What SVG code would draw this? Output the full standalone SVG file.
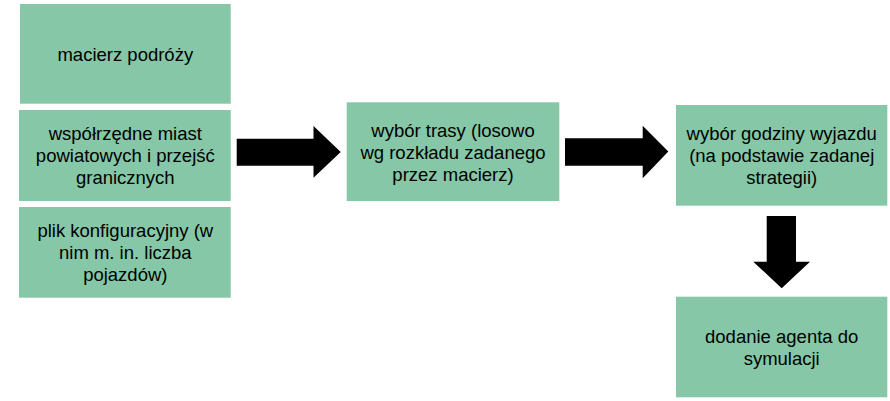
<svg xmlns="http://www.w3.org/2000/svg" width="890" height="401" viewBox="0 0 890 401">
<style>
.box{fill:#85c7a6;}
.t{font-family:"Liberation Sans",Arial,sans-serif;font-size:18.5px;fill:#000;text-anchor:middle;}
.arr{fill:#000;}
</style>
<rect width="890" height="401" fill="#fff"/>
<g id="n1"><rect class="box" x="20" y="4" width="210.7" height="99.7"/><text class="t" x="125.3" y="61">macierz podróży</text></g>
<g id="n2"><rect class="box" x="19" y="110" width="211.7" height="91"/><text class="t" x="125.3"><tspan x="125.3" y="140">współrzędne miast</tspan><tspan x="125.3" y="162">powiatowych i przejść</tspan><tspan x="125.3" y="184">granicznych</tspan></text></g>
<g id="n3"><rect class="box" x="19" y="207" width="211.7" height="90.7"/><text class="t"><tspan x="125.3" y="236.5">plik konfiguracyjny (w</tspan><tspan x="125.3" y="258.5">nim m. in. liczba</tspan><tspan x="125.3" y="280.5">pojazdów)</tspan></text></g>
<g id="n4"><rect class="box" x="346.7" y="102.3" width="212.6" height="98.7"/><text class="t"><tspan x="453" y="136.5">wybór trasy (losowo</tspan><tspan x="453" y="158.5">wg rozkładu zadanego</tspan><tspan x="453" y="180.5">przez macierz)</tspan></text></g>
<g id="n5"><rect class="box" x="676" y="105" width="211.3" height="100.7"/><text class="t"><tspan x="781.7" y="139.5">wybór godziny wyjazdu</tspan><tspan x="781.7" y="161.5">(na podstawie zadanej</tspan><tspan x="781.7" y="183.5">strategii)</tspan></text></g>
<g id="n6"><rect class="box" x="676" y="296.7" width="211.3" height="100.6"/><text class="t"><tspan x="781.7" y="343">dodanie agenta do</tspan><tspan x="781.7" y="365">symulacji</tspan></text></g>
<g id="connectors">
<polygon class="arr" points="236.7,138.7 313.5,138.7 313.5,126 340.7,152 313.5,177.7 313.5,165.7 236.7,165.7"/>
<polygon class="arr" points="565,138.3 642.7,138.3 642.7,125.7 668.3,151.5 642.7,178.3 642.7,165.7 565,165.7"/>
<polygon class="arr" points="766.7,216 796,216 796,261.7 810,261.7 781.7,288.3 753.3,261.7 766.7,261.7"/>
</g>
</svg>
